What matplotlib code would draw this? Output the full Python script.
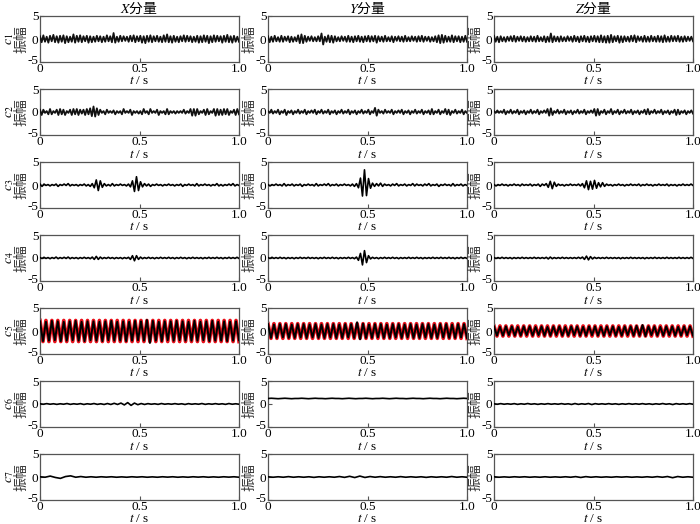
import numpy as np
import matplotlib
matplotlib.use("Agg")
import matplotlib.pyplot as plt
import matplotlib.transforms as mtransforms

plt.rcParams['font.family'] = ['Liberation Serif', 'Noto Sans CJK SC', 'DejaVu Sans']
plt.rcParams['mathtext.fontset'] = 'stix'
plt.rcParams['axes.unicode_minus'] = False

# ---------------- data ----------------
columns = ["X", "Y", "Z"]
imf_names = ["c1", "c2", "c3", "c4", "c5", "c6", "c7"]
x_ticks = [0, 0.5, 1.0]
x_tick_labels = ["0", "0.5", "1.0"]
y_ticks = [-5, 0, 5]
y_tick_labels = ["-5", "0", "5"]

c1_x = [0.6,-0.7,0.8,-0.6,0.5,-0.8,0.7,-0.5,0.9,-0.7,0.6,-0.8,0.7,-0.6,0.8,-0.9,0.6,-0.7,0.5,-0.6,
        1.0,-0.8,0.7,-0.6,0.8,-0.7,0.6,-0.5,0.7,-0.8,0.6,-0.7,0.5,-0.6,0.7,-0.5,0.6,-0.7,0.5,-0.6,
        0.8,-0.5,0.6,-0.7,1.3,-0.8,0.5,-0.6,0.7,-0.5,0.6,-0.4,0.5,-0.6,0.7,-0.5,0.8,-0.7,0.6,-0.5,
        0.7,-0.8,0.6,-0.9,0.7,-0.6,0.8,-0.7,0.6,-0.5,0.7,-0.6,0.5,-0.7,0.8,-0.6,1.0,-0.7,0.6,-0.8,
        0.7,-0.6,0.5,-0.7,0.6,-0.5,0.8,-0.6,0.7,-0.5,0.6,-0.7,0.5,-0.6,0.7,-0.8,0.6,-0.7,0.8,-0.6,
        0.7,-0.9,0.6,-0.7,0.8,-0.6,0.7,-0.5,0.6,-0.8,0.7,-0.6,0.9,-0.7,0.6,-0.8,0.7,-0.6,0.5,-0.6]
c1_y = [0.6,-0.7,0.5,-0.6,0.7,-0.5,0.4,-0.6,0.7,-0.6,0.5,-0.4,0.6,-0.7,0.5,-0.6,0.4,-0.5,0.8,-0.9,
        1.0,-0.9,0.7,-0.6,0.5,-0.4,0.6,-0.5,0.4,-0.5,0.6,-0.5,1.2,-1.2,0.5,-0.6,0.8,-0.7,0.7,-0.8,
        0.6,-0.5,0.4,-0.5,0.6,-0.4,0.5,-0.6,0.7,-0.6,0.5,-0.7,0.6,-0.5,0.7,-0.6,0.5,-0.7,0.6,-0.5,
        0.7,-0.6,0.6,-0.5,0.7,-0.8,0.6,-0.5,0.5,-0.6,0.7,-0.5,0.4,-0.5,0.6,-0.7,0.5,-0.4,0.6,-0.5,
        0.5,-0.6,0.7,-0.5,0.4,-0.5,0.6,-0.4,0.5,-0.6,0.6,-0.5,0.7,-0.6,0.5,-0.4,0.5,-0.6,0.4,-0.5,
        0.6,-0.7,0.8,-0.9,0.9,-0.8,0.7,-0.6,0.5,-0.6,0.8,-0.7,0.6,-0.5,0.6,-0.7,0.5,-0.6,0.7,-0.6]
c1_z = [0.7,-0.6,0.5,-0.7,0.6,-0.5,0.4,-0.6,0.5,-0.4,0.6,-0.5,0.7,-0.6,0.5,-0.4,0.6,-0.5,0.5,-0.6,
        0.4,-0.5,0.6,-0.5,0.5,-0.6,0.7,-0.5,0.4,-0.5,0.6,-0.7,0.5,-0.6,1.2,-0.7,0.6,-0.5,0.5,-0.6,
        0.6,-0.5,0.4,-0.5,0.6,-0.4,0.5,-0.6,0.7,-0.5,0.5,-0.7,0.6,-0.5,0.7,-0.6,0.5,-0.7,0.6,-0.5,
        0.7,-0.6,0.6,-0.7,0.8,-0.7,0.6,-0.8,0.7,-0.8,0.9,-0.7,0.6,-0.5,0.7,-0.8,0.6,-0.7,0.6,-0.5,
        0.5,-0.6,0.7,-0.5,0.8,-0.7,0.6,-0.4,0.5,-0.6,0.7,-0.6,0.5,-0.6,0.7,-0.5,0.5,-0.6,0.7,-0.6,
        0.6,-0.7,0.8,-0.6,0.5,-0.6,0.7,-0.5,0.6,-0.5,0.7,-0.6,0.5,-0.6,0.6,-0.5,0.5,-0.4,0.5,-0.5]

c2_x = [0.5,-0.65,0.5,-0.2,0.2,-0.5,0.65,-0.5,0.2,-0.2,0.5,-0.65,0.65,-0.5,0.5,-0.65,0.2,-0.2,0.5,-0.65,
        0.65,-0.5,0.65,-0.65,0.5,-0.35,0.5,-0.65,0.65,-0.5,0.8,-0.9,1.2,-1.0,0.8,-0.65,0.5,-0.2,0.2,-0.5,
        0.5,-0.2,0.2,-0.2,0.35,-0.5,0.2,-0.2,0.2,-0.5,0.65,-0.2,0.2,-0.2,0.5,-0.65,0.2,-0.2,0.2,-0.35,
        0.2,-0.5,0.65,-0.2,0.2,-0.5,0.65,-0.2,0.2,-0.2,0.5,-0.65,0.2,-0.2,0.2,-0.5,0.65,-0.5,0.2,-0.2,
        0.2,-0.35,0.2,-0.2,0.2,-0.2,0.5,-0.35,0.2,-0.2,0.65,-0.8,0.65,-0.8,0.65,-0.5,0.2,-0.2,0.5,-0.65,
        0.65,-0.5,0.2,-0.2,0.65,-0.8,0.65,-0.65,0.5,-0.65,0.65,-0.5,0.65,-0.65,0.2,-0.2,0.5,-0.65,0.65,-0.5]
c2_y = [0.2,-0.2,0.5,-0.35,0.2,-0.2,0.5,-0.5,0.2,-0.2,0.5,-0.65,0.2,-0.2,0.35,-0.5,0.2,-0.2,0.5,-0.35,
        0.2,-0.2,0.5,-0.5,0.2,-0.2,0.35,-0.2,0.5,-0.5,0.2,-0.2,0.5,-0.35,0.2,-0.2,0.5,-0.5,0.2,-0.2,
        0.35,-0.5,0.2,-0.2,0.5,-0.35,0.2,-0.2,0.5,-0.5,0.2,-0.2,0.35,-0.5,0.2,-0.2,0.5,-0.35,0.2,-0.2,
        0.5,-0.5,0.2,-0.2,0.9,-0.8,0.5,-0.2,0.2,-0.35,0.5,-0.2,0.2,-0.2,0.5,-0.5,0.2,-0.2,0.35,-0.2,
        0.5,-0.5,0.2,-0.2,0.35,-0.5,0.2,-0.2,0.5,-0.35,0.2,-0.2,0.5,-0.5,0.2,-0.2,0.35,-0.5,0.65,-0.5,
        0.2,-0.2,0.5,-0.5,0.2,-0.2,0.65,-0.5,0.5,-0.65,0.2,-0.2,0.5,-0.35,0.2,-0.2,0.5,-0.5,0.2,-0.2]
c2_z = [0.2,-0.2,0.35,-0.2,0.2,-0.2,0.5,-0.5,0.2,-0.2,0.5,-0.35,0.2,-0.2,0.5,-0.5,0.2,-0.2,0.35,-0.5,
        0.2,-0.2,0.5,-0.35,0.2,-0.2,0.5,-0.5,0.2,-0.2,0.35,-0.2,0.65,-0.8,0.8,-0.65,0.2,-0.2,0.5,-0.35,
        0.2,-0.2,0.5,-0.5,0.2,-0.2,0.35,-0.5,0.2,-0.2,0.5,-0.35,0.2,-0.2,0.5,-0.5,0.2,-0.2,0.35,-0.2,
        0.65,-0.8,0.65,-0.65,0.2,-0.2,0.5,-0.5,0.2,-0.2,0.65,-0.5,0.2,-0.2,0.5,-0.5,0.2,-0.2,0.5,-0.35,
        0.2,-0.2,0.5,-0.5,0.2,-0.2,0.35,-0.5,0.2,-0.2,0.5,-0.5,0.65,-0.5,0.2,-0.2,0.5,-0.35,0.2,-0.2,
        0.5,-0.5,0.2,-0.2,0.35,-0.5,0.2,-0.2,0.5,-0.65,0.5,-0.5,0.2,-0.2,0.35,-0.5,0.2,-0.2,0.35,-0.35]

c3_x = [0.2,-0.3,0.2,-0.1,0.1,-0.2,0.1,-0.1,0.2,-0.3,0.1,-0.1,0.2,-0.1,0.3,-0.2,0.1,-0.1,0.1,-0.2,
        0.1,-0.1,0.2,-0.2,0.1,-0.3,0.3,-0.6,1.1,-1.2,0.9,-0.5,0.3,-0.2,0.1,-0.2,0.3,-0.2,0.1,-0.1,
        0.2,-0.1,0.1,-0.2,0.2,-0.4,0.9,-1.4,1.8,-1.2,0.7,-0.4,0.3,-0.2,0.2,-0.3,0.1,-0.1,0.2,-0.1,
        0.1,-0.2,0.1,-0.1,0.2,-0.1,0.1,-0.2,0.1,-0.1,0.2,-0.3,0.1,-0.1,0.2,-0.1,0.1,-0.2,0.3,-0.2,
        0.1,-0.1,0.2,-0.1,0.1,-0.2,0.1,-0.1,0.3,-0.2,0.1,-0.2,0.1,-0.1,0.2,-0.1,0.3,-0.2,0.1,-0.1]
c3_y = [0.1,-0.2,0.1,-0.1,0.2,-0.1,0.1,-0.2,0.3,-0.2,0.1,-0.1,0.2,-0.2,0.1,-0.1,0.2,-0.3,0.1,-0.1,
        0.2,-0.1,0.1,-0.2,0.3,-0.2,0.1,-0.1,0.2,-0.1,0.3,-0.2,0.1,-0.1,0.2,-0.2,0.1,-0.1,0.2,-0.1,
        0.1,-0.2,0.2,-0.3,0.3,-0.6,1.5,-2.4,3.3,-2.3,1.4,-0.7,0.4,-0.3,0.3,-0.2,0.4,-0.3,0.2,-0.1,
        0.1,-0.2,0.2,-0.1,0.3,-0.2,0.1,-0.1,0.2,-0.2,0.1,-0.1,0.3,-0.2,0.2,-0.1,0.1,-0.2,0.2,-0.1,
        0.3,-0.2,0.1,-0.1,0.2,-0.3,0.1,-0.1,0.2,-0.1,0.1,-0.2,0.3,-0.2,0.1,-0.1,0.2,-0.2,0.1,-0.1]
c3_z = [0.1,-0.2,0.1,-0.1,0.2,-0.1,0.1,-0.2,0.1,-0.1,0.2,-0.1,0.1,-0.2,0.2,-0.1,0.1,-0.1,0.2,-0.2,
        0.1,-0.1,0.2,-0.3,0.2,-0.1,0.3,-0.5,0.8,-0.8,0.6,-0.3,0.2,-0.1,0.1,-0.2,0.1,-0.1,0.2,-0.1,
        0.1,-0.1,0.2,-0.2,0.3,-0.6,0.9,-1.0,0.8,-0.9,1.0,-0.7,0.5,-0.4,0.5,-0.3,0.2,-0.1,0.1,-0.2,
        0.1,-0.1,0.2,-0.1,0.1,-0.2,0.1,-0.1,0.2,-0.1,0.1,-0.1,0.2,-0.2,0.1,-0.1,0.2,-0.1,0.1,-0.2,
        0.1,-0.1,0.2,-0.1,0.1,-0.1,0.2,-0.2,0.1,-0.1,0.1,-0.2,0.1,-0.1,0.2,-0.1,0.1,-0.1,0.2,-0.1]

c4_x = [0.1,-0.1,0.15,-0.1,0.1,-0.15,0.1,-0.1,0.2,-0.15,0.1,-0.1,0.15,-0.1,0.2,-0.15,0.1,-0.1,0.1,-0.15,
        0.1,-0.1,0.15,-0.1,0.1,-0.15,0.2,-0.3,0.35,-0.3,0.2,-0.15,0.1,-0.1,0.15,-0.1,0.1,-0.15,0.1,-0.1,
        0.1,-0.15,0.1,-0.1,0.15,-0.3,0.5,-0.6,0.5,-0.3,0.2,-0.15,0.1,-0.1,0.15,-0.1,0.1,-0.15,0.1,-0.1,
        0.15,-0.1,0.1,-0.1,0.15,-0.1,0.1,-0.15,0.1,-0.1,0.15,-0.1,0.1,-0.15,0.1,-0.1,0.15,-0.1,0.1,-0.1,
        0.1,-0.15,0.1,-0.1,0.15,-0.1,0.1,-0.1,0.15,-0.1,0.1,-0.15,0.1,-0.1,0.15,-0.1,0.1,-0.1,0.15,-0.1]
c4_y = [0.1,-0.1,0.15,-0.1,0.1,-0.1,0.15,-0.1,0.1,-0.15,0.1,-0.1,0.1,-0.15,0.1,-0.1,0.15,-0.1,0.1,-0.1,
        0.15,-0.1,0.1,-0.1,0.1,-0.15,0.1,-0.1,0.15,-0.1,0.1,-0.1,0.15,-0.1,0.1,-0.15,0.1,-0.1,0.1,-0.1,
        0.15,-0.1,0.1,-0.15,0.2,-0.5,1.0,-1.5,1.6,-1.0,0.5,-0.2,0.15,-0.1,0.1,-0.15,0.1,-0.1,0.15,-0.1,
        0.1,-0.1,0.15,-0.1,0.1,-0.15,0.1,-0.1,0.1,-0.1,0.15,-0.1,0.1,-0.1,0.15,-0.1,0.1,-0.15,0.1,-0.1,
        0.1,-0.1,0.15,-0.1,0.1,-0.1,0.15,-0.1,0.1,-0.1,0.15,-0.1,0.1,-0.15,0.1,-0.1,0.15,-0.1,0.1,-0.1]
c4_z = [0.1,-0.1,0.1,-0.1,0.15,-0.1,0.1,-0.1,0.1,-0.15,0.1,-0.1,0.1,-0.1,0.15,-0.1,0.1,-0.1,0.1,-0.1,
        0.15,-0.1,0.1,-0.1,0.1,-0.1,0.15,-0.2,0.2,-0.15,0.1,-0.1,0.1,-0.1,0.15,-0.1,0.1,-0.1,0.1,-0.1,
        0.1,-0.1,0.15,-0.1,0.2,-0.3,0.4,-0.4,0.3,-0.2,0.15,-0.1,0.1,-0.1,0.1,-0.1,0.15,-0.1,0.1,-0.1,
        0.1,-0.1,0.1,-0.15,0.1,-0.1,0.1,-0.1,0.15,-0.1,0.1,-0.1,0.1,-0.1,0.1,-0.15,0.1,-0.1,0.1,-0.1,
        0.15,-0.1,0.1,-0.1,0.1,-0.1,0.15,-0.1,0.1,-0.1,0.1,-0.1,0.15,-0.1,0.1,-0.1,0.1,-0.1,0.15,-0.1]

c5_x = [2.1,-2.2,2.0,-2.1,2.2,-2.0,2.1,-2.2,2.0,-2.1,2.1,-2.0,2.2,-2.1,2.0,-2.2,2.1,-2.0,2.1,-2.1,
        2.0,-2.2,2.1,-2.0,2.2,-2.1,2.0,-2.1,2.1,-2.2,2.0,-2.1,2.2,-2.0,2.1,-2.1,2.4,-2.6,2.2,-2.1,
        2.0,-2.2,2.1,-2.0,2.1,-2.1,2.2,-2.0,2.1,-2.1,2.0,-2.1,2.2,-2.1,2.0,-2.0,2.1,-2.2,2.2,-2.1,
        2.0,-2.1,2.1,-2.2,2.0,-2.1,2.1,-2.0]
c5_y = [1.5,-1.5,1.4,-1.5,1.5,-1.4,1.5,-1.5,1.4,-1.5,1.5,-1.4,1.5,-1.5,1.4,-1.4,1.5,-1.5,1.4,-1.5,
        1.5,-1.4,1.5,-1.5,1.4,-1.5,1.5,-1.4,1.5,-1.5,1.9,-1.8,1.6,-1.5,1.4,-1.5,1.5,-1.4,1.5,-1.5,
        1.4,-1.5,1.5,-1.4,1.5,-1.5,1.4,-1.4,1.5,-1.5,1.4,-1.5,1.5,-1.4,1.5,-1.5,1.4,-1.5,1.5,-1.4,
        1.5,-1.5,1.4,-1.5,1.5,-1.4,1.5,-1.5]
c5_z = [1.0,-1.0,0.9,-1.0,1.0,-0.9,1.0,-1.0,0.9,-1.0,1.0,-0.9,1.0,-1.0,0.9,-0.9,1.0,-1.0,0.9,-1.0,
        1.0,-0.9,1.0,-1.0,0.9,-1.0,1.0,-0.9,1.0,-1.0,0.9,-1.0,1.0,-0.9,1.0,-1.0,0.9,-1.0,1.0,-0.9,
        1.0,-1.0,0.9,-1.0,1.0,-0.9,1.0,-1.0,1.1,-1.0,1.3,-1.1,1.0,-0.9,1.0,-1.0,0.9,-1.0,1.0,-0.9,
        1.0,-1.0,0.9,-1.0,1.0,-0.9,1.0,-1.0]
c5_ref_x = [2.3,-2.3,2.3,-2.3,2.3,-2.3,2.3,-2.3,2.3,-2.3,2.3,-2.3,2.3,-2.3,2.3,-2.3,2.3,-2.3,2.3,-2.3,
            2.3,-2.3,2.3,-2.3,2.3,-2.3,2.3,-2.3,2.3,-2.3,2.3,-2.3,2.3,-2.3,2.3,-2.3,2.3,-2.3,2.3,-2.3,
            2.3,-2.3,2.3,-2.3,2.3,-2.3,2.3,-2.3,2.3,-2.3,2.3,-2.3,2.3,-2.3,2.3,-2.3,2.3,-2.3,2.3,-2.3,
            2.3,-2.3,2.3,-2.3,2.3,-2.3,2.3,-2.3]
c5_ref_y = [1.6,-1.6,1.6,-1.6,1.6,-1.6,1.6,-1.6,1.6,-1.6,1.6,-1.6,1.6,-1.6,1.6,-1.6,1.6,-1.6,1.6,-1.6,
            1.6,-1.6,1.6,-1.6,1.6,-1.6,1.6,-1.6,1.6,-1.6,1.6,-1.6,1.6,-1.6,1.6,-1.6,1.6,-1.6,1.6,-1.6,
            1.6,-1.6,1.6,-1.6,1.6,-1.6,1.6,-1.6,1.6,-1.6,1.6,-1.6,1.6,-1.6,1.6,-1.6,1.6,-1.6,1.6,-1.6,
            1.6,-1.6,1.6,-1.6,1.6,-1.6,1.6,-1.6]
c5_ref_z = [1.1,-1.1,1.1,-1.1,1.1,-1.1,1.1,-1.1,1.1,-1.1,1.1,-1.1,1.1,-1.1,1.1,-1.1,1.1,-1.1,1.1,-1.1,
            1.1,-1.1,1.1,-1.1,1.1,-1.1,1.1,-1.1,1.1,-1.1,1.1,-1.1,1.1,-1.1,1.1,-1.1,1.1,-1.1,1.1,-1.1,
            1.1,-1.1,1.1,-1.1,1.1,-1.1,1.1,-1.1,1.1,-1.1,1.1,-1.1,1.1,-1.1,1.1,-1.1,1.1,-1.1,1.1,-1.1,
            1.1,-1.1,1.1,-1.1,1.1,-1.1,1.1,-1.1]

c6_x = [0.05,-0.05,0.08,-0.05,0.05,-0.08,0.05,-0.05,0.1,-0.08,0.05,-0.05,0.08,-0.1,0.05,-0.05,0.1,-0.08,0.05,-0.1,
        0.1,-0.1,0.15,-0.1,0.2,-0.2,0.3,-0.3,0.2,-0.15,0.1,-0.1,0.08,-0.05,0.05,-0.08,0.1,-0.05,0.05,-0.05,
        0.08,-0.05,0.05,-0.1,0.08,-0.05,0.05,-0.05,0.1,-0.08,0.05,-0.05,0.08,-0.05,0.05,-0.08,0.1,-0.05,0.05,-0.05]
c6_y = [1.2,1.25,1.2,1.15,1.2,1.25,1.2,1.15,1.2,1.2,1.25,1.2,1.15,1.2,1.25,1.2,1.2,1.15,1.2,1.25,
        1.2,1.2,1.15,1.2,1.25,1.2,1.15,1.2,1.2,1.25,1.2,1.15,1.2,1.2,1.25,1.2,1.15,1.2,1.25,1.2,
        1.2,1.15,1.2,1.25,1.2,1.2,1.15,1.2,1.25,1.2,1.2,1.15,1.2,1.25,1.2,1.2,1.15,1.2,1.25,1.2]
c6_z = [0.05,-0.05,0.08,-0.05,0.05,-0.05,0.08,-0.08,0.05,-0.05,0.1,-0.05,0.05,-0.08,0.05,-0.05,0.08,-0.05,0.05,-0.05,
        0.08,-0.05,0.05,-0.1,0.1,-0.08,0.05,-0.05,0.1,-0.12,0.08,-0.05,0.05,-0.05,0.08,-0.05,0.05,-0.08,0.05,-0.05,
        0.08,-0.05,0.05,-0.05,0.08,-0.05,0.05,-0.08,0.05,-0.05,0.1,-0.05,0.05,-0.12,0.08,-0.05,0.05,-0.05,0.08,-0.05]

c7_x = [0.05,-0.05,0.2,-0.1,-0.3,0.1,0.25,-0.05,0.1,-0.05,0.05,-0.05,0.05,-0.03,0.05,-0.05,0.03,-0.05,0.05,-0.03,
        0.05,-0.05,0.03,-0.05,0.05,-0.03,0.05,-0.05,0.03,-0.05,0.05,-0.03,0.05,-0.05,0.03,-0.05,0.05,-0.03,0.05,-0.05]
c7_y = [0.05,-0.05,0.05,-0.05,0.08,-0.05,0.05,-0.05,0.05,-0.08,0.05,-0.05,0.05,-0.05,0.1,-0.08,0.15,-0.12,0.2,-0.1,
        0.1,-0.05,0.08,-0.05,0.05,-0.05,0.08,-0.05,0.05,-0.05,0.05,-0.08,0.05,-0.05,0.05,-0.05,0.1,-0.05,0.05,-0.05]
c7_z = [0.05,-0.05,0.03,-0.05,0.05,-0.03,0.05,-0.05,0.03,-0.05,0.05,-0.05,0.03,-0.05,0.05,-0.05,0.08,-0.1,0.08,-0.05,
        0.05,-0.05,0.03,-0.05,0.05,-0.03,0.05,-0.05,0.03,-0.05,0.05,-0.05,0.08,-0.05,0.1,-0.15,0.1,-0.05,0.05,-0.05]

series = {
    "c1": [c1_x, c1_y, c1_z],
    "c2": [c2_x, c2_y, c2_z],
    "c3": [c3_x, c3_y, c3_z],
    "c4": [c4_x, c4_y, c4_z],
    "c5": [c5_x, c5_y, c5_z],
    "c6": [c6_x, c6_y, c6_z],
    "c7": [c7_x, c7_y, c7_z],
}
c5_ref = [c5_ref_x, c5_ref_y, c5_ref_z]

# ---------------- layout ----------------
W, H = 700, 524
fig = plt.figure(figsize=(W / 100, H / 100), dpi=100)
col_left = [40, 268, 494]
ax_w = 199
row_top0, row_step, ax_h = 16, 73, 46
spine_color = "#555555"
tick_fs = 9.5
cjk = ['Noto Sans CJK SC', 'DejaVu Sans']
raise_label = mtransforms.ScaledTranslation(0, 2 / 72, fig.dpi_scale_trans)

for r, name in enumerate(imf_names):
    for c in range(3):
        top = row_top0 + r * row_step
        ax = fig.add_axes([col_left[c] / W, 1 - (top + ax_h) / H, ax_w / W, ax_h / H])
        vals = series[name][c]
        t = np.linspace(0, 1, len(vals))
        if name == "c5":
            ref = c5_ref[c]
            tr = np.linspace(0, 1, len(ref))
            ax.plot(tr, ref, color="#e8101a", lw=2.6, zorder=2)
            ax.plot(t, vals, color="black", lw=1.4, zorder=3)
        elif name in ("c1", "c2"):
            ax.plot(t, vals, color="#111111", lw=1.3, zorder=3)
        else:
            ax.plot(t, vals, color="black", lw=1.2, zorder=3)
        ax.set_xlim(0, 1)
        ax.set_ylim(-5, 5)
        ax.set_xticks(x_ticks)
        ax.set_xticklabels(x_tick_labels)
        ax.set_yticks(y_ticks)
        ax.set_yticklabels(y_tick_labels)
        ax.tick_params(direction="in", length=3, width=0.8, color=spine_color,
                       labelsize=tick_fs)
        ax.tick_params(axis="x", pad=1.0)
        ax.tick_params(axis="y", pad=1.0)
        # the "-5" label sits a little above the lower corner, as in the reference
        lbl = ax.get_yticklabels()[0]
        lbl.set_transform(lbl.get_transform() + raise_label)
        for sp in ax.spines.values():
            sp.set_color(spine_color)
            sp.set_linewidth(0.9)
        ax.set_xlabel("$t$ / s", fontsize=tick_fs)
        ax.xaxis.set_label_coords(0.5, -13.5 / ax_h)
        ax.set_ylabel("振幅", fontsize=10, family=cjk, color="#333333")
        ax.yaxis.set_label_coords(-11.5 / ax_w, 0.5)
        if c == 0:
            ax.text(-0.155, 0.5, "$c_{%d}$" % (r + 1), transform=ax.transAxes,
                    rotation=90, fontsize=10, ha="center", va="center")
        if r == 0:
            ax.set_title("$%s$分量" % columns[c], fontsize=10, family=cjk, pad=2)

fig.savefig("out.png", dpi=100)
